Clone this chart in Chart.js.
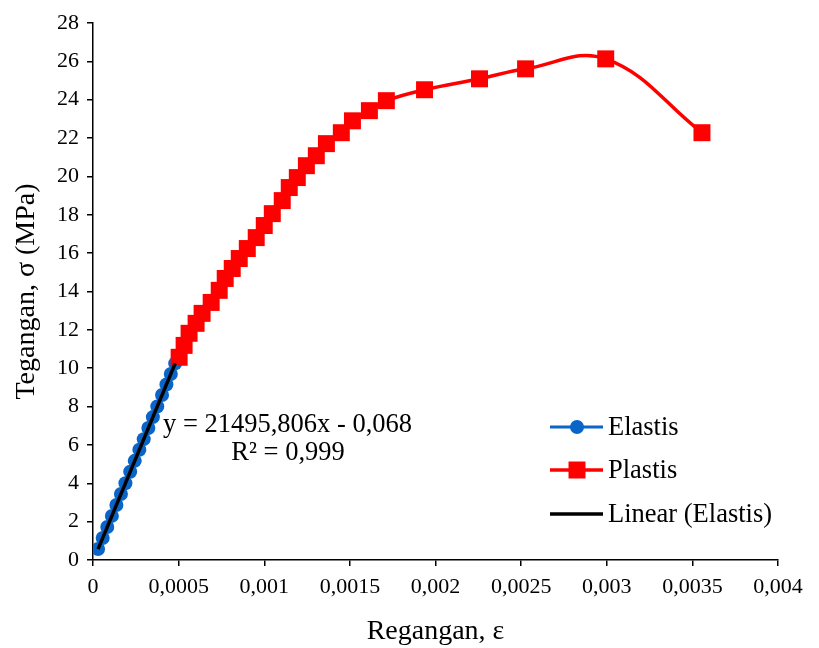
<!DOCTYPE html>
<html><head><meta charset="utf-8">
<script src="https://cdn.jsdelivr.net/npm/chart.js@4.4.1/dist/chart.umd.min.js"></script>
<style>html,body{margin:0;padding:0;background:#fff}#wrap{width:819px;height:648px}</style>
</head><body><div id="wrap"><canvas id="c" width="819" height="648"></canvas></div>
<script>
// ---- data ----
const elastisStrain = [0.0000297,0.0000567,0.0000832,0.0001102,0.0001367,0.0001632,0.0001893,0.0002172,0.0002437,0.0002707,0.0002962,0.0003232,0.0003497,0.0003753,0.0004032,0.0004288,0.0004544,0.0004800];
const elastisStress = [0.57,1.15,1.72,2.30,2.87,3.44,4.00,4.60,5.17,5.75,6.30,6.88,7.45,8.00,8.60,9.15,9.70,10.25];
const plastisStrain = [0.000503,0.000532,0.000561,0.000602,0.000637,0.000690,0.000737,0.000772,0.000813,0.000854,0.000901,0.000953,0.001000,0.001047,0.001105,0.001146,0.001193,0.001246,0.001304,0.001363,0.001450,0.001515,0.001614,0.001713,0.001936,0.002257,0.002526,0.002994,0.003556];
const plastisStress = [10.57,11.19,11.82,12.34,12.86,13.43,14.06,14.68,15.20,15.72,16.24,16.81,17.44,18.06,18.74,19.42,19.94,20.56,21.08,21.71,22.28,22.90,23.43,23.95,24.52,25.09,25.61,26.13,22.28];
const trendSlope = 21495.806;
const trendIntercept = -0.068;
const xTickValues = [0,0.0005,0.001,0.0015,0.002,0.0025,0.003,0.0035,0.004];
const xTickLabels = ['0','0,0005','0,001','0,0015','0,002','0,0025','0,003','0,0035','0,004'];
const yTickValues = [0,2,4,6,8,10,12,14,16,18,20,22,24,26,28];
const yTickLabels = ['0','2','4','6','8','10','12','14','16','18','20','22','24','26','28'];
const seriesNames = ['Elastis','Plastis','Linear (Elastis)'];
const xAxisTitle = 'Regangan, ε';
const yAxisTitle = 'Tegangan, σ (MPa)';
const equationText = 'y = 21495,806x - 0,068';
const r2Text = 'R² = 0,999';

// ---- build ----
const FONT = "'Liberation Serif', 'Times New Roman', serif";
const BLUE = '#0A65C8';
const RED = '#FF0000';
const zip = (xs, ys) => xs.map((x, i) => ({x, y: ys[i]}));
const tMin = Math.min(...elastisStrain), tMax = Math.max(...elastisStrain);
const trendData = [{x: tMin, y: trendSlope * tMin + trendIntercept}, {x: tMax, y: trendSlope * tMax + trendIntercept}];

const overlay = {
  id: 'overlay',
  afterDatasetsDraw(chart) {
    const ctx = chart.ctx, xs = chart.scales.x, ys = chart.scales.y;
    ctx.save();
    ctx.fillStyle = '#000';
    ctx.font = '26.5px ' + FONT;
    ctx.textBaseline = 'middle';
    ctx.textAlign = 'left';
    ctx.fillText(equationText, xs.getPixelForValue(0.000409), ys.getPixelForValue(7.05));
    ctx.textAlign = 'center';
    ctx.fillText(r2Text, xs.getPixelForValue(0.001139), ys.getPixelForValue(5.6));
    // legend
    const rows = [427, 470, 514];
    const x0 = 550, x1 = 603, xm = 577;
    chart.data.datasets.forEach((ds, i) => {
      const y = rows[i];
      ctx.strokeStyle = ds.borderColor;
      ctx.lineWidth = ds.borderWidth;
      ctx.beginPath(); ctx.moveTo(x0, y); ctx.lineTo(x1, y); ctx.stroke();
      if (ds.pointRadius > 0) {
        ctx.fillStyle = ds.pointBackgroundColor;
        if (ds.pointStyle === 'rect') {
          const s = ds.pointRadius * Math.SQRT1_2;
          ctx.fillRect(xm - s, y - s, 2 * s, 2 * s);
        } else {
          ctx.beginPath(); ctx.arc(xm, y, ds.pointRadius, 0, Math.PI * 2); ctx.fill();
        }
      }
      ctx.fillStyle = '#000';
      ctx.textAlign = 'left';
      ctx.fillText(ds.label, 608, y + 1);
    });
    ctx.restore();
  }
};

new Chart(document.getElementById('c'), {
  type: 'scatter',
  data: {
    datasets: [
      {label: seriesNames[0], data: zip(elastisStrain, elastisStress), showLine: true, tension: 0.4,
       borderColor: BLUE, borderWidth: 3, pointStyle: 'circle', pointRadius: 7, pointBackgroundColor: BLUE, pointBorderWidth: 0, order: 2},
      {label: seriesNames[1], data: zip(plastisStrain, plastisStress), showLine: true, tension: 0.4,
       borderColor: RED, borderWidth: 3.5, pointStyle: 'rect', pointRadius: 12, pointBackgroundColor: RED, pointBorderWidth: 0, order: 1},
      {label: seriesNames[2], data: trendData, showLine: true, tension: 0,
       borderColor: '#000', borderWidth: 3.5, pointRadius: 0, order: 0}
    ]
  },
  options: {
    responsive: false,
    animation: false,
    layout: {padding: {left: 0, top: 23, right: 41, bottom: 0}},
    plugins: {legend: {display: false}, tooltip: {enabled: false}},
    scales: {
      x: {
        type: 'linear', min: 0, max: 0.004,
        afterBuildTicks: s => { s.ticks = xTickValues.map(v => ({value: v})); },
        afterFit: s => { s.height = 88; },
        ticks: {callback: (v, i) => xTickLabels[i], font: {family: FONT, size: 22}, color: '#000', padding: 8, maxRotation: 0, autoSkip: false},
        grid: {drawOnChartArea: false, drawTicks: true, tickLength: 6, color: '#000', lineWidth: 1.5},
        border: {color: '#000', width: 1.5},
        title: {display: true, text: xAxisTitle, font: {family: FONT, size: 28, lineHeight: 1.2}, color: '#000', padding: {top: 0, bottom: 0}}
      },
      y: {
        type: 'linear', min: 0, max: 28,
        afterBuildTicks: s => { s.ticks = yTickValues.map(v => ({value: v})); },
        afterFit: s => { s.width = 93; },
        ticks: {callback: (v, i) => yTickLabels[i], font: {family: FONT, size: 22}, color: '#000', padding: 8, autoSkip: false},
        grid: {drawOnChartArea: false, drawTicks: true, tickLength: 6, color: '#000', lineWidth: 1.5},
        border: {color: '#000', width: 1.5},
        title: {display: true, text: yAxisTitle, font: {family: FONT, size: 28, lineHeight: 1.2}, color: '#000', padding: {top: 10, bottom: 0}}
      }
    }
  },
  plugins: [overlay]
});
</script>
</body></html>
